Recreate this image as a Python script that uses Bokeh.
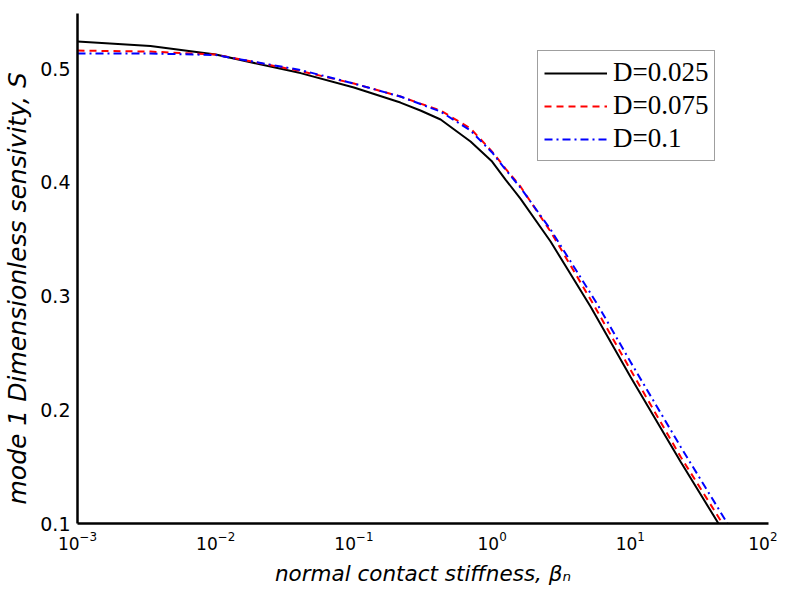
from bokeh.plotting import figure
from bokeh.models import Range1d, FixedTicker, Legend, LegendItem, LogTickFormatter
from bokeh.embed import file_html
from bokeh.resources import INLINE

# ---- data ----
beta_025 = [1e-3, 3.37e-3, 1e-2, 4.11e-2, 1e-1, 0.217, 0.303, 0.424, 0.698, 1.0, 1.25, 1.603, 2.649, 5.152, 10.0, 23.07, 43.45]
S_025    = [0.5237, 0.5198, 0.5123, 0.4960, 0.4833, 0.4701, 0.4631, 0.4552, 0.4358, 0.4182, 0.4024, 0.3857, 0.3479, 0.2908, 0.2292, 0.1545, 0.1000]

beta_075 = [1e-3, 3.37e-3, 1e-2, 4.11e-2, 1e-1, 0.217, 0.303, 0.424, 0.698, 1.0, 1.25, 1.603, 2.649, 5.420, 10.0, 23.07, 46.45]
S_075    = [0.5158, 0.5149, 0.5123, 0.4978, 0.4868, 0.4754, 0.4692, 0.4631, 0.4473, 0.4270, 0.4121, 0.3963, 0.3567, 0.2925, 0.2354, 0.1589, 0.1000]

beta_10  = [1e-3, 3.37e-3, 1e-2, 4.11e-2, 1e-1, 0.217, 0.303, 0.424, 0.698, 1.0, 1.25, 1.603, 2.649, 5.794, 10.0, 23.07, 50.47]
S_10     = [0.5132, 0.5132, 0.5119, 0.4987, 0.4868, 0.4754, 0.4688, 0.4622, 0.4455, 0.4262, 0.4112, 0.3954, 0.3585, 0.2925, 0.2424, 0.1677, 0.1000]

series_labels = ["D=0.025", "D=0.075", "D=0.1"]
x_ticks = [1e-3, 1e-2, 1e-1, 1e0, 1e1, 1e2]
y_ticks = [0.1, 0.2, 0.3, 0.4, 0.5]

p = figure(width=777, height=590, x_axis_type="log",
           x_range=Range1d(1e-3, 1e2), y_range=Range1d(0.1, 0.5484),
           output_backend="svg", toolbar_location=None,
           min_border_left=69, min_border_right=9, min_border_top=13, min_border_bottom=67)
p.outline_line_color = None
p.grid.visible = False
p.background_fill_color = "white"

r1 = p.line(beta_025, S_025, line_color="black", line_width=2)
r2 = p.line(beta_075, S_075, line_color="red", line_width=2, line_dash="7 5")
r3 = p.line(beta_10, S_10, line_color="blue", line_width=2, line_dash="8 4 2 4")

for ax in (p.xaxis, p.yaxis):
    ax.axis_line_color = "black"
    ax.axis_line_width = 2.5
    ax.major_tick_line_color = None
    ax.minor_tick_line_color = None
    ax.major_label_text_font = "DejaVu Sans"
    ax.major_label_text_color = "black"
    ax.axis_label_text_font = "DejaVu Sans"
    ax.axis_label_text_font_style = "italic"
    ax.axis_label_text_color = "black"

p.xaxis.ticker = FixedTicker(ticks=x_ticks)
p.xaxis.formatter = LogTickFormatter()
p.xaxis.major_label_text_font_size = "17px"
p.xaxis.major_label_standoff = 1
p.xaxis.axis_label = "normal contact stiffness, \u03b2\u2099"
p.xaxis.axis_label_text_font_size = "21.5px"
p.xaxis.axis_label_standoff = 8

p.yaxis.ticker = FixedTicker(ticks=y_ticks)
p.yaxis.major_label_text_font_size = "19px"
p.yaxis.major_label_standoff = 1
p.yaxis.axis_label = "mode 1 Dimensionless sensivity, S\u00a0\u00a0\u00a0\u00a0\u00a0"
p.yaxis.axis_label_text_font_size = "25px"
p.yaxis.axis_label_standoff = 5

legend = Legend(items=[LegendItem(label=series_labels[0], renderers=[r1]),
                       LegendItem(label=series_labels[1], renderers=[r2]),
                       LegendItem(label=series_labels[2], renderers=[r3])],
                location=(460, 362))
legend.label_text_font = "Liberation Serif"
legend.label_text_font_size = "27px"
legend.label_text_color = "black"
legend.glyph_width = 63
legend.glyph_height = 30
legend.label_height = 30
legend.label_standoff = 6
legend.spacing = 2
legend.padding = 6
legend.margin = 0
legend.border_line_color = "#404040"
legend.border_line_width = 1.5
legend.background_fill_alpha = 1
p.add_layout(legend, "center")

open("out.html", "w").write(file_html(p, INLINE))
